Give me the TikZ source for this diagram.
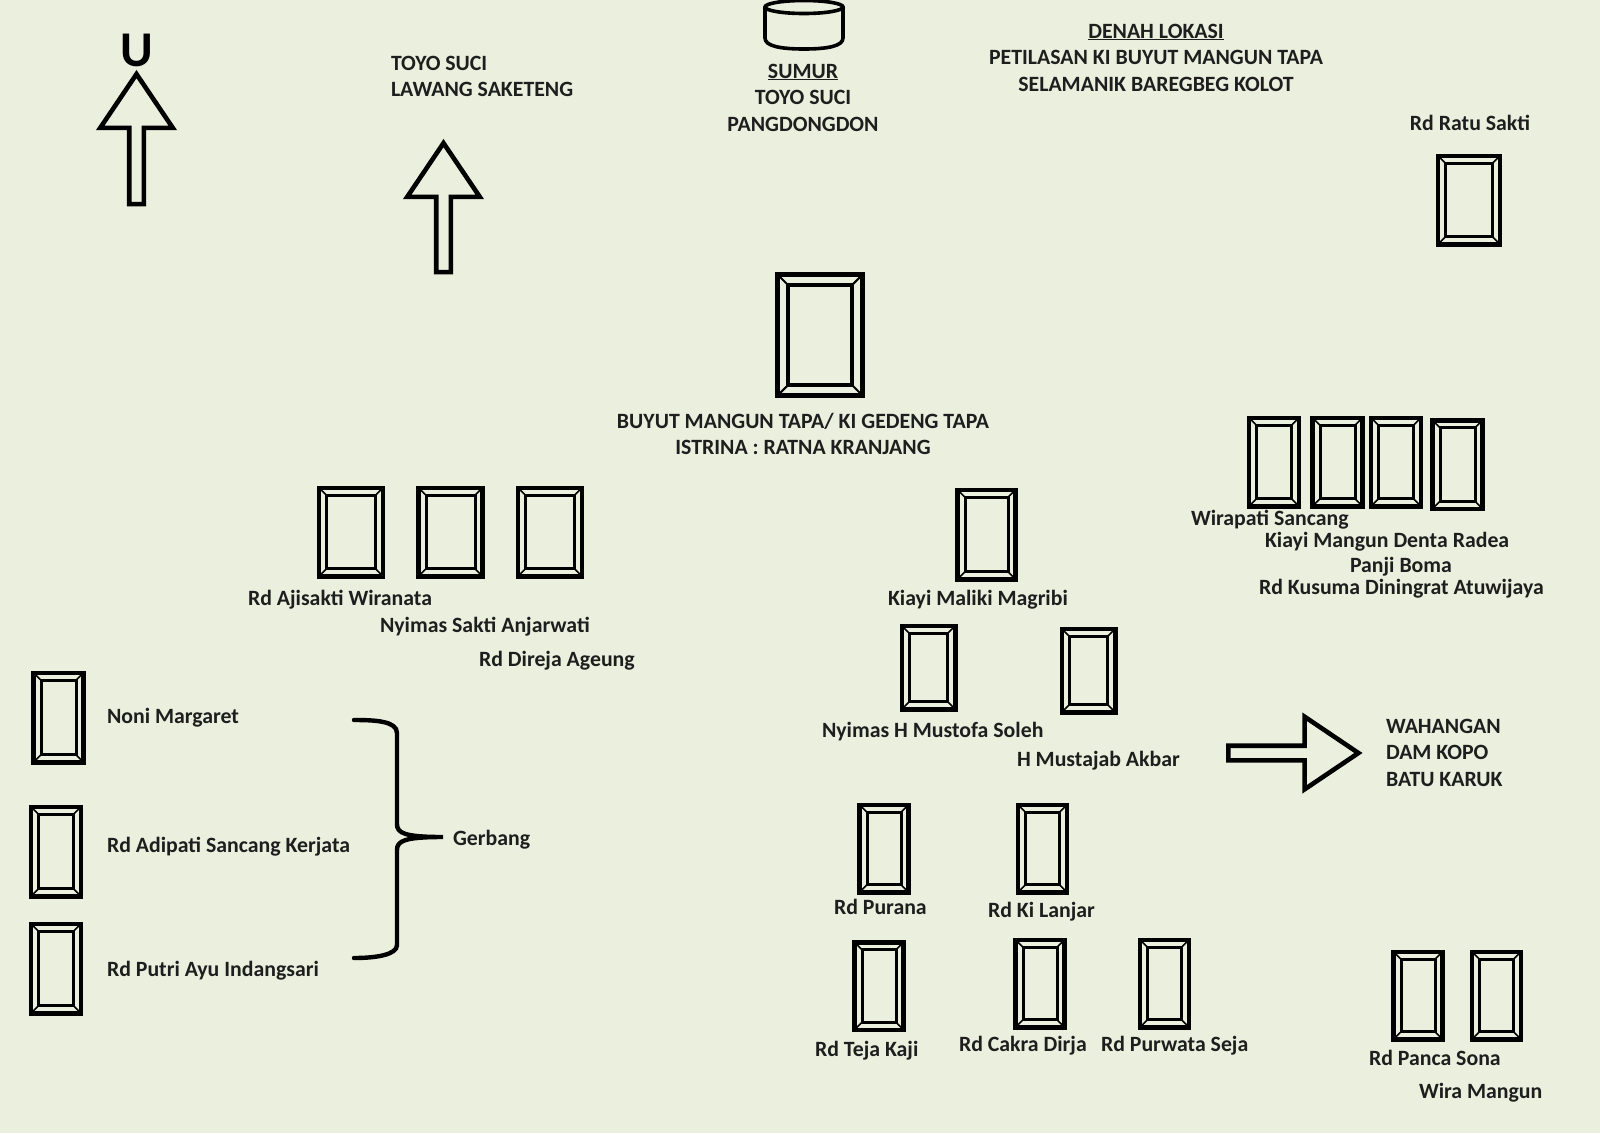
\documentclass[tikz,border=0pt]{standalone}
\usepackage{fontspec}
\setmainfont{Carlito}
\usepackage{xcolor}
\usetikzlibrary{positioning,shapes.arrows,calc}
\definecolor{paper}{HTML}{EBEFDE}
\definecolor{ink}{HTML}{1E1E1E}
\tikzset{
  every node/.style={font=\fontsize{21.8}{26.5}\selectfont\bfseries,text=ink},
  labelw/.style={inner sep=0pt,outer sep=0pt,text height=14pt,text depth=0pt,anchor=west},
  labelc/.style={inner sep=0pt,outer sep=0pt,text height=14pt,text depth=0pt},
  blokw/.style={inner sep=0pt,outer sep=0pt,anchor=west,align=left},
  blokc/.style={inner sep=0pt,outer sep=0pt,align=center},
  bigletter/.style={inner sep=0pt,text=black,font=\fontsize{50}{50}\selectfont\bfseries},
  makam/.style n args={3}{draw=black,line width=4.5pt,inner sep=0pt,minimum width=#1,minimum height=#2,
    path picture={
      \coordinate (sw) at (path picture bounding box.south west);
      \coordinate (ne) at (path picture bounding box.north east);
      \coordinate (se) at (path picture bounding box.south east);
      \coordinate (nw) at (path picture bounding box.north west);
      \draw[black,line width=0.4*#3] ($(sw)+(#3,#3)$) rectangle ($(ne)+(-#3,-#3)$);
      \draw[black,line width=0.2*#3] (sw) -- +(#3,#3) (se) -- +(-#3,#3) (ne) -- +(-#3,-#3) (nw) -- +(#3,-#3);
    }},
  makamgede/.style={makam={85pt}{121pt}{10.5pt},line width=5.5pt},
  blockarrow/.style={draw=black,line width=4.6pt,shape=single arrow,inner sep=5pt,minimum width=68pt,
    single arrow head extend=29pt,single arrow tip angle=68,outer sep=0pt},
  sumur/.style={draw=black,line width=3.6pt},
  bracket/.style={draw=black,line width=4.4pt,line cap=round},
}

\begin{document}
\begin{tikzpicture}[x=1pt,y=-1pt]

\path[fill=paper,use as bounding box] (0,0) rectangle (1600,1133);

% penunjuk arah
\node[bigletter] (utara) at (137,50) {U};
\node[blockarrow,rotate=90,minimum height=130pt] (arahutara) at (136.5,144.5) {};
\node[blockarrow,rotate=90,minimum height=129pt] (arahsuci) at (443.5,213) {};
\node[blockarrow,minimum height=130pt] (arahkopo) at (1288,753) {};

\node[blokw] (toyosuci) at (391,76.5) {TOYO SUCI\\LAWANG SAKETENG};
\draw[sumur] (765,7) -- (765,38) .. controls (765,46) and (780,49) .. (804,49) .. controls (828,49) and (843,46) .. (843,38) -- (843,7);
\draw[sumur] (804,7) ellipse [x radius=39pt,y radius=6.5pt];
\node[blokc] (sumurlabel) at (803,97.5) {\underline{SUMUR}\\TOYO SUCI\\PANGDONGDON};
\node[blokc] (denah) at (1156,57.5) {\underline{DENAH LOKASI}\\PETILASAN KI BUYUT MANGUN TAPA\\SELAMANIK BAREGBEG KOLOT};

% makam utama
\node[makamgede] (buyut) at (820,335) {};
\node[blokc] (buyutlabel) at (803,434) {BUYUT MANGUN TAPA/ KI GEDENG TAPA\\ISTRINA : RATNA KRANJANG};

\node[makam={62pt}{88.5pt}{7.5pt}] (ratu) at (1469,200) {};
\node[labelc] (ratulabel) at (1470,123) {Rd Ratu Sakti};

% kiri atas
\node[makam={64pt}{88.5pt}{7.5pt}] (ajisakti) at (351,532) {};
\node[makam={64pt}{88.5pt}{7.5pt},right=31pt of ajisakti] (anjarwati) {};
\node[makam={64pt}{88.5pt}{7.5pt},right=31pt of anjarwati] (direja) {};
\node[labelw] (ajisaktilabel) at (248,598) {Rd Ajisakti Wiranata};
\node[labelw] (anjarwatilabel) at (380,625) {Nyimas Sakti Anjarwati};
\node[labelw] (direjalabel) at (479,659) {Rd Direja Ageung};

% kanan atas
\node[makam={50pt}{88.5pt}{7.5pt}] (wirapati) at (1274,462) {};
\node[makam={50pt}{88.5pt}{7.5pt}] (denta) at (1337.5,462) {};
\node[makam={50pt}{88.5pt}{7.5pt}] (panji) at (1396,462) {};
\node[makam={50pt}{88.5pt}{7.5pt}] (kusuma) at (1457.5,464.5) {};
\node[labelw] (wirapatilabel) at (1191,518) {Wirapati Sancang};
\node[labelw] (dentalabel) at (1265,540.5) {Kiayi Mangun Denta Radea};
\node[labelw] (panjilabel) at (1350,565) {Panji Boma};
\node[labelw] (kusumalabel) at (1259,587) {Rd Kusuma Diningrat Atuwijaya};

% tengah
\node[makam={58pt}{89.5pt}{7.5pt}] (maliki) at (986.5,534.5) {};
\node[labelw] (malikilabel) at (888,598) {Kiayi Maliki Magribi};
\node[makam={53.5pt}{83.5pt}{7.5pt}] (mustofa) at (928.5,667.5) {};
\node[makam={53.5pt}{83.5pt}{7.5pt}] (mustajab) at (1088.5,670.5) {};
\node[labelw] (mustofalabel) at (822,730) {Nyimas H Mustofa Soleh};
\node[labelw] (mustajablabel) at (1017,759) {H Mustajab Akbar};
\node[blokw] (wahangan) at (1386,752.5) {WAHANGAN\\DAM KOPO\\BATU KARUK};

% gerbang
\node[makam={50pt}{89.5pt}{7.5pt}] (noni) at (58.5,717.5) {};
\node[makam={50pt}{89.5pt}{7.5pt}] (adipati) at (56,851.5) {};
\node[makam={50pt}{89.5pt}{7.5pt}] (putri) at (56,968.5) {};
\node[labelw] (nonilabel) at (107,716) {Noni Margaret};
\node[labelw] (adipatilabel) at (107,845) {Rd Adipati Sancang Kerjata};
\node[labelw] (putrilabel) at (107,969) {Rd Putri Ayu Indangsari};
\node[labelw] (gerbang) at (453,838) {Gerbang};
\coordinate (kurungatas) at (354,720);
\coordinate (kurungujung) at (443,837);
\coordinate (kurungbawah) at (354,958);
\draw[bracket] (kurungatas) .. controls (375,720) and (397,721) .. (397,733) -- (397,824)
  .. controls (397,833) and (404,837) .. (kurungujung)
  .. controls (404,837) and (397,841) .. (397,850) -- (397,945)
  .. controls (397,955) and (375,958) .. (kurungbawah);

% bawah
\node[makam={49pt}{87.5pt}{7.5pt}] (purana) at (884,848.5) {};
\node[makam={49pt}{87.5pt}{7.5pt}] (lanjar) at (1042.5,848.5) {};
\node[labelw] (puranalabel) at (834,907.5) {Rd Purana};
\node[labelw] (lanjarlabel) at (988,910.5) {Rd Ki Lanjar};
\node[makam={49pt}{87.5pt}{7.5pt}] (teja) at (879,986) {};
\node[makam={49pt}{87.5pt}{7.5pt}] (cakra) at (1040,983.5) {};
\node[makam={49pt}{87.5pt}{7.5pt}] (purwata) at (1164.5,983.5) {};
\node[labelw] (tejalabel) at (815,1049.5) {Rd Teja Kaji};
\node[labelw] (cakralabel) at (959,1044.5) {Rd Cakra Dirja};
\node[labelw] (purwatalabel) at (1101,1044.5) {Rd Purwata Seja};
\node[makam={49pt}{87.5pt}{7.5pt}] (panca) at (1418,995.5) {};
\node[makam={49pt}{87.5pt}{7.5pt},right=25pt of panca] (wira) {};
\node[labelw] (pancalabel) at (1369,1058.5) {Rd Panca Sona};
\node[labelw] (wiralabel) at (1419,1091) {Wira Mangun};

\end{tikzpicture}
\end{document}
